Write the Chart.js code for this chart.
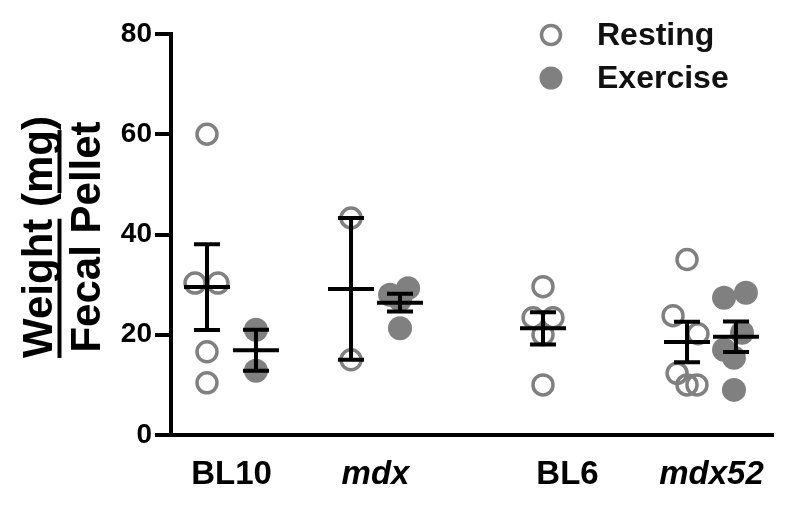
<!DOCTYPE html>
<html>
<head>
<meta charset="utf-8">
<script src="https://cdn.jsdelivr.net/npm/chart.js@4.4.1/dist/chart.umd.min.js"></script>
<style>
  html, body { margin: 0; padding: 0; background: #ffffff; }
  #wrap { width: 792px; height: 509px; }
</style>
</head>
<body>
<div id="wrap"><canvas id="c" width="792" height="509"></canvas></div>
<script>
// ---- data ----
const groups = ['BL10', 'mdx', 'BL6', 'mdx52'];
const groupPos = [1, 2, 3.333, 4.333];
const restingValues = [
  [60, 30.3, 30.3, 16.6, 10.4],
  [43.3, 15],
  [29.6, 23.4, 23.4, 20, 10],
  [35, 23.8, 20.2, 12.3, 10, 10]
];
const restingJitter = [
  [0, -0.083, 0.076, 0, 0],
  [0, 0],
  [0, -0.069, 0.069, 0, 0],
  [0, -0.097, 0.076, -0.069, 0, 0.069]
];
const exerciseValues = [
  [21, 12.8],
  [28, 29.3, 21.3, 27],
  [],
  [27.4, 28.4, 20.4, 17, 15.4, 9]
];
const exerciseJitter = [
  [0, 0],
  [-0.069, 0.056, 0, 0],
  [],
  [-0.083, 0.069, 0.042, -0.083, -0.014, -0.014]
];
const yTicks = [0, 20, 40, 60, 80];
const seriesNames = ['Resting', 'Exercise'];

// ---- helpers ----
const FONT = "'Liberation Sans', Arial, Helvetica, sans-serif";
const GRAY = '#808080';
const SIDE = 0.17;

function buildPoints(values, jitter, side) {
  const pts = [];
  values.forEach((arr, g) => {
    arr.forEach((v, i) => pts.push({ x: groupPos[g] + side + jitter[g][i], y: v }));
  });
  return pts;
}
function meanSem(arr) {
  const n = arr.length;
  const m = arr.reduce((a, b) => a + b, 0) / n;
  const sd = Math.sqrt(arr.reduce((a, b) => a + (b - m) * (b - m), 0) / (n - 1));
  return { m, sem: sd / Math.sqrt(n) };
}

const overlay = {
  id: 'overlay',
  afterDatasetsDraw(chart) {
    const ctx = chart.ctx;
    const xs = chart.scales.x, ys = chart.scales.y;
    ctx.save();
    ctx.strokeStyle = '#000';
    ctx.lineWidth = 4;
    ctx.lineCap = 'butt';
    [[restingValues, -SIDE], [exerciseValues, SIDE]].forEach(([vals, side]) => {
      vals.forEach((arr, g) => {
        if (arr.length < 2) return;
        const { m, sem } = meanSem(arr);
        const px = xs.getPixelForValue(groupPos[g] + side);
        const yt = ys.getPixelForValue(m + sem);
        const yb = ys.getPixelForValue(m - sem);
        const ym = ys.getPixelForValue(m);
        ctx.beginPath();
        ctx.moveTo(px, yt); ctx.lineTo(px, yb);
        ctx.moveTo(px - 13, yt); ctx.lineTo(px + 13, yt);
        ctx.moveTo(px - 13, yb); ctx.lineTo(px + 13, yb);
        ctx.moveTo(px - 23, ym); ctx.lineTo(px + 23, ym);
        ctx.stroke();
      });
    });
    ctx.restore();
  },
  afterDraw(chart) {
    const ctx = chart.ctx;
    ctx.save();
    // Y-axis title (fraction style, underlined words)
    ctx.translate(0, 237);
    ctx.rotate(-Math.PI / 2);
    ctx.fillStyle = '#000';
    ctx.font = 'bold 42px ' + FONT;
    ctx.textBaseline = 'alphabetic';
    ctx.textAlign = 'left';
    const l1 = 'Weight (mg)';
    const w1 = ctx.measureText(l1).width;
    const s1 = -w1 / 2;
    ctx.fillText(l1, s1, 52);
    const wW = ctx.measureText('Weight').width;
    const wPre = ctx.measureText('Weight (').width;
    const wMg = ctx.measureText('mg').width;
    ctx.fillRect(s1, 57.5, wW, 4);
    ctx.fillRect(s1 + wPre, 57.5, wMg, 4);
    const l2 = 'Fecal Pellet';
    const w2 = ctx.measureText(l2).width;
    ctx.fillText(l2, -w2 / 2, 100);
    ctx.restore();

    // Legend
    ctx.save();
    ctx.lineWidth = 3.5;
    ctx.strokeStyle = GRAY;
    ctx.fillStyle = GRAY;
    ctx.beginPath(); ctx.arc(551, 35, 9.5, 0, Math.PI * 2); ctx.stroke();
    ctx.beginPath(); ctx.arc(551, 78, 11.5, 0, Math.PI * 2); ctx.fill();
    ctx.fillStyle = '#111';
    ctx.font = 'bold 32px ' + FONT;
    ctx.textBaseline = 'middle';
    ctx.textAlign = 'left';
    ctx.fillText(seriesNames[0], 597, 36);
    ctx.fillText(seriesNames[1], 597, 79);
    ctx.restore();
  }
};

new Chart(document.getElementById('c'), {
  type: 'scatter',
  data: {
    datasets: [
      {
        label: seriesNames[0],
        data: buildPoints(restingValues, restingJitter, -SIDE),
        pointRadius: 10,
        pointBorderWidth: 3.5,
        pointBorderColor: GRAY,
        pointBackgroundColor: 'rgba(255,255,255,0)',
        pointHoverRadius: 10
      },
      {
        label: seriesNames[1],
        data: buildPoints(exerciseValues, exerciseJitter, SIDE),
        pointRadius: 12,
        pointBorderWidth: 0,
        pointBorderColor: GRAY,
        pointBackgroundColor: GRAY,
        pointHoverRadius: 12
      }
    ]
  },
  options: {
    responsive: false,
    animation: false,
    devicePixelRatio: 1,
    layout: { padding: { top: 34, right: 19, left: 0, bottom: 0 } },
    plugins: { legend: { display: false }, tooltip: { enabled: false } },
    scales: {
      x: {
        type: 'linear',
        min: 0.58,
        max: 4.76,
        afterFit(s) { s.height = 74; },
        afterBuildTicks(s) { s.ticks = groupPos.map(v => ({ value: v })); },
        grid: { display: false },
        border: { display: true, width: 4, color: '#000' },
        ticks: {
          autoSkip: false,
          maxRotation: 0,
          padding: 12,
          color: '#000',
          callback: (v, i) => groups[i],
          font: (c) => ({
            family: FONT,
            size: 33,
            weight: 'bold',
            style: /mdx/.test(groups[c.index] || '') ? 'italic' : 'normal'
          })
        }
      },
      y: {
        min: 0,
        max: 80,
        afterFit(s) { s.width = 171; },
        afterBuildTicks(s) { s.ticks = yTicks.map(v => ({ value: v })); },
        grid: {
          display: true,
          drawOnChartArea: false,
          drawTicks: true,
          tickLength: 16,
          tickWidth: 4,
          tickColor: '#000',
          color: '#000',
          lineWidth: 4
        },
        border: { display: true, width: 4, color: '#000' },
        ticks: {
          padding: 3,
          color: '#000',
          font: { family: FONT, size: 28, weight: 'bold' }
        }
      }
    }
  },
  plugins: [overlay]
});
</script>
</body>
</html>
